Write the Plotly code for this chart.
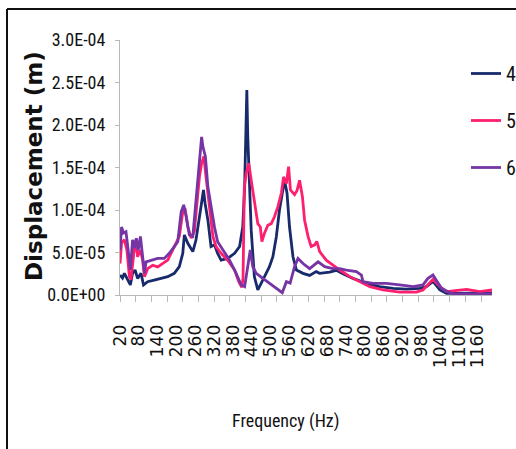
import plotly.graph_objects as go

# Frequencies (Hz) and displacements (units of 1e-5 m)
freq_4 = [20, 28, 34, 44, 53, 60, 68, 76, 87, 95, 108, 129, 151, 172, 193, 209, 220, 225, 236, 252,
          262, 273, 286, 291, 300, 310, 321, 331, 342, 363, 385, 401, 411, 417, 422, 424, 427, 433, 438, 448,
          459, 470, 486, 496, 507, 518, 528, 539, 544, 552, 560, 571, 582, 603, 624, 645, 656, 688, 709, 730,
          762, 805, 847, 890, 932, 975, 996, 1017, 1028, 1039, 1060, 1103, 1150, 1205]
disp_4 = [2.35, 2.0, 2.55, 1.76, 1.18, 2.55, 2.94, 1.96, 2.55, 1.18, 1.57, 1.76, 1.96, 2.16, 2.55, 3.33, 4.9, 7.06, 6.08, 5.1,
          6.47, 9.2, 12.35, 10.8, 8.8, 5.7, 5.9, 4.9, 4.1, 4.3, 4.9, 5.7, 8.0, 12.7, 20.6, 24.1, 18.6, 13.5, 7.6, 2.16,
          0.6, 1.4, 2.55, 3.33, 4.5, 6.86, 10.0, 12.7, 13.5, 12.0, 8.0, 4.5, 2.94, 2.55, 2.3, 2.75, 2.55, 2.7, 2.9, 2.5,
          1.96, 1.37, 0.98, 0.78, 0.7, 0.78, 0.98, 1.6, 1.1, 0.59, 0.2, 0.2, 0.25, 0.25]

freq_5 = [20, 25, 34, 42, 50, 55, 64, 71, 76, 85, 92, 98, 108, 124, 140, 156, 172, 188, 199, 209,
          220, 227, 236, 247, 257, 266, 273, 280, 287, 294, 305, 316, 326, 342, 363, 385, 398, 408, 412, 416,
          422, 430, 438, 448, 459, 467, 472, 480, 491, 502, 512, 523, 534, 541, 550, 557, 563, 576, 584, 592,
          601, 608, 619, 629, 640, 647, 656, 677, 698, 720, 752, 784, 816, 858, 911, 964, 985, 1017, 1039, 1060,
          1090, 1124, 1166, 1205]
disp_5 = [3.7, 6.1, 6.5, 5.3, 2.16, 1.8, 4.9, 6.5, 4.5, 5.3, 4.1, 2.16, 3.1, 3.5, 3.3, 3.7, 4.1, 5.3, 6.1, 6.9,
          9.8, 10.2, 8.0, 6.7, 7.5, 10.8, 13.9, 15.5, 16.3, 13.9, 10.0, 6.9, 5.7, 4.9, 4.1, 2.94, 1.6, 0.9, 2.0, 12.7,
          14.3, 15.5, 13.5, 10.8, 8.4, 8.0, 6.27, 7.25, 8.2, 8.4, 9.2, 10.4, 12.0, 13.9, 13.1, 15.1, 12.35, 11.8, 12.3, 13.5,
          11.6, 8.8, 6.9, 5.7, 5.9, 6.3, 5.1, 4.1, 3.5, 2.94, 2.16, 1.57, 0.98, 0.59, 0.33, 0.33, 0.59, 1.84, 0.98, 0.4,
          0.5, 0.67, 0.4, 0.59]

freq_6 = [20, 25, 31, 39, 46, 53, 60, 66, 72, 78, 85, 92, 98, 103, 119, 140, 161, 177, 193, 204,
          215, 223, 231, 241, 252, 262, 270, 276, 280, 284, 292, 300, 310, 321, 331, 347, 369, 390, 406, 417,
          427, 435, 443, 454, 475, 496, 518, 537, 550, 562, 576, 587, 603, 624, 651, 672, 698, 720, 741, 773,
          789, 794, 826, 869, 911, 954, 985, 1001, 1017, 1028, 1044, 1065, 1081, 1124, 1205]
disp_6 = [5.3, 8.0, 7.3, 7.45, 5.3, 2.94, 6.5, 5.5, 6.67, 5.3, 6.9, 4.5, 2.55, 3.9, 4.1, 4.3, 4.3, 4.9, 5.7, 6.27,
          9.8, 10.6, 9.2, 7.06, 6.9, 11.2, 14.7, 16.7, 18.6, 17.45, 16.3, 12.7, 10.4, 8.0, 6.27, 5.3, 4.1, 2.55, 1.18, 0.98,
          3.33, 5.3, 3.33, 2.55, 1.96, 1.37, 0.78, 0.27, 1.57, 1.4, 3.33, 4.3, 3.7, 3.1, 3.9, 3.33, 3.1, 3.1, 2.94, 2.75,
          2.35, 1.57, 1.37, 1.37, 1.18, 0.98, 1.18, 1.96, 2.35, 1.76, 0.78, 0.39, 0.12, 0.12, 0.12]

series_names = ["4", "5", "6"]
series_colors = ["#172a6b", "#ff1f6f", "#7535a5"]

x_tick_labels = list(range(20, 1161, 60))
y_tick_vals = [0, 5e-5, 1e-4, 1.5e-4, 2e-4, 2.5e-4, 3e-4]
y_tick_text = ["0.0E+00", "5.0E-05", "1.0E-04", "1.5E-04", "2.0E-04", "2.5E-04", "3.0E-04"]

NARROW = "Liberation Sans Narrow, Arial Narrow, Roboto Condensed, DejaVu Sans Condensed, sans-serif"

fig = go.Figure()
for name, fr, dv, col in zip(series_names, [freq_4, freq_5, freq_6], [disp_4, disp_5, disp_6], series_colors):
    fig.add_trace(go.Scatter(
        x=fr, y=[v * 1e-5 for v in dv], mode="lines", name=name, legendgroup=name,
        line=dict(color=col, width=2.8), cliponaxis=False,
    ))

L, R, T, B = 120, 24, 40, 154
W, H = 516, 449
pw, ph = W - L - R, H - T - B

def px(xp):
    return (xp - L) / pw

def py(yp):
    return (H - B - yp) / ph

fig.update_layout(
    width=W, height=H,
    margin=dict(l=L, r=R, t=T, b=B, autoexpand=False),
    paper_bgcolor="white", plot_bgcolor="white",
    showlegend=True,
    legend=dict(
        x=px(466), y=py(54), xanchor="left", yanchor="top",
        font=dict(family=NARROW, size=20, color="#111"),
        tracegroupgap=18, traceorder="grouped",
        bgcolor="rgba(0,0,0,0)",
    ),
    xaxis=dict(
        range=[20, 1205], showgrid=False, zeroline=False,
        showline=True, linecolor="#b8b8b8", linewidth=1,
        tickmode="array", tickvals=x_tick_labels, ticktext=[str(v) for v in x_tick_labels],
        ticks="", tickangle=-90, ticklabelstandoff=22,
        tickfont=dict(family="DejaVu Sans, sans-serif", size=17, color="#111"),
        minor=dict(ticks="outside", dtick=50, tick0=20, ticklen=6, tickcolor="#b8b8b8", tickwidth=1, showgrid=False),
    ),
    yaxis=dict(
        range=[0, 3e-4], showgrid=False, zeroline=False,
        showline=True, linecolor="#b8b8b8", linewidth=1,
        tickmode="array", tickvals=y_tick_vals, ticktext=y_tick_text,
        ticks="outside", ticklen=4, tickcolor="#b8b8b8",
        ticklabelstandoff=6,
        tickfont=dict(family=NARROW, size=18, color="#111"),
    ),
    annotations=[
        dict(text="Displacement (m)", xref="paper", yref="paper", x=px(34), y=py(166),
             showarrow=False, textangle=-90, xanchor="center", yanchor="middle",
             font=dict(family="DejaVu Sans, sans-serif", size=23, color="#111", weight="bold")),
        dict(text="Frequency (Hz)", xref="paper", yref="paper", x=px(285), y=py(421),
             showarrow=False, xanchor="center", yanchor="middle",
             font=dict(family=NARROW, size=18, color="#111")),
    ],
    shapes=[
        dict(type="line", xref="paper", yref="paper", x0=px(7), x1=px(7), y0=py(9), y1=py(449),
             line=dict(color="#111", width=2)),
        dict(type="line", xref="paper", yref="paper", x0=px(7), x1=px(516), y0=py(9), y1=py(9),
             line=dict(color="#111", width=2)),
    ],
)

fig.write_html("out.html")
